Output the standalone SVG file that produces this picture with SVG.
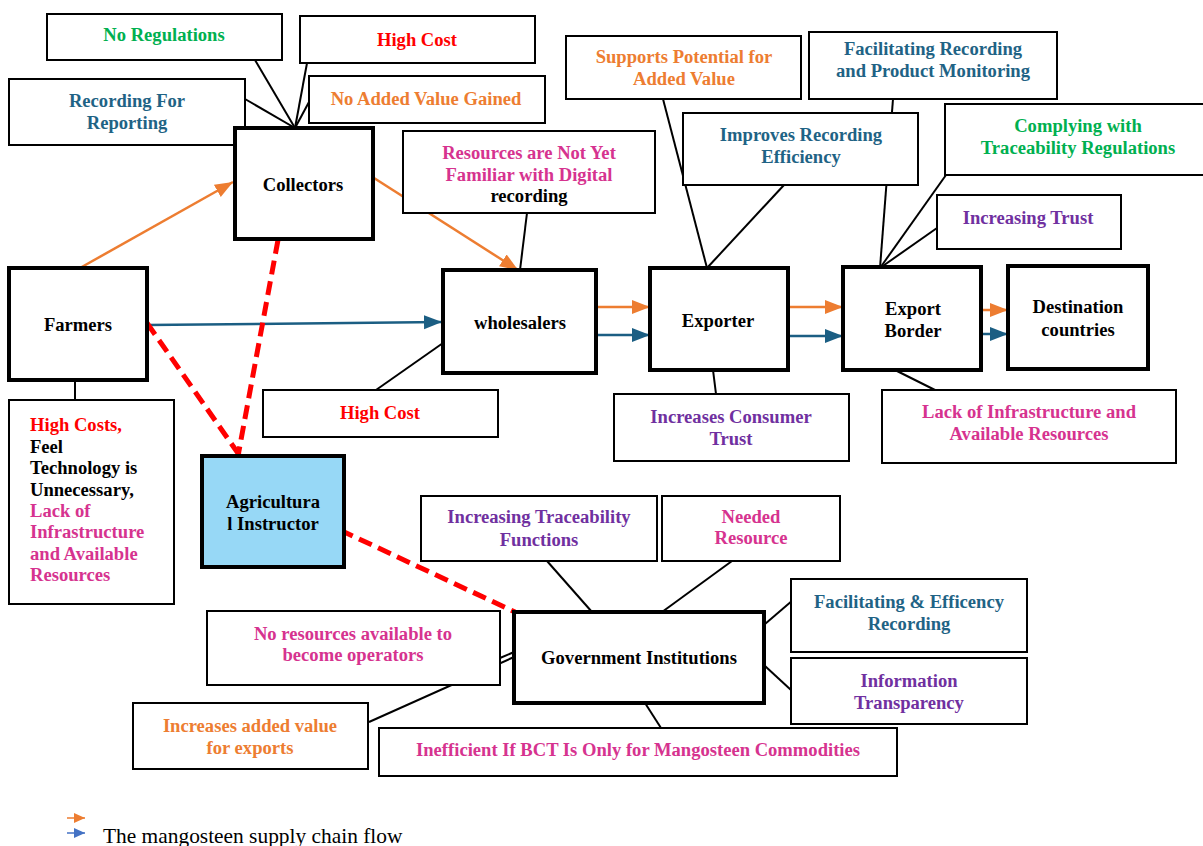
<svg xmlns="http://www.w3.org/2000/svg" width="1203" height="846" viewBox="0 0 1203 846">
<style>
text{font-family:"Liberation Serif","Times New Roman",serif;font-weight:bold;font-size:18.6px;text-anchor:middle}
.box{fill:#fff;stroke:#000;stroke-width:2}
.node{fill:#fff;stroke:#000;stroke-width:4}
.ln{stroke:#000;stroke-width:2;fill:none}
.or{stroke:#ED7D31;stroke-width:2.5;fill:none}
.bl{stroke:#1B5E83;stroke-width:2.5;fill:none}
.dash{stroke:#FF0000;stroke-width:5;fill:none;stroke-dasharray:14 7}
.g{fill:#00B050}.r{fill:#FF0000}.t{fill:#1F6385}.o{fill:#ED7D31}.m{fill:#D6338F}.p{fill:#7030A0}.k{fill:#000}
</style>
<defs>
<marker id="ao" markerUnits="userSpaceOnUse" markerWidth="20" markerHeight="16" refX="18" refY="8" orient="auto"><path d="M0,1 L18,8 L0,15 z" fill="#ED7D31"/></marker>
<marker id="ab" markerUnits="userSpaceOnUse" markerWidth="20" markerHeight="16" refX="18" refY="8" orient="auto"><path d="M0,1 L18,8 L0,15 z" fill="#1B5E83"/></marker>
<marker id="lo" markerUnits="userSpaceOnUse" markerWidth="12" markerHeight="10" refX="11" refY="5" orient="auto"><path d="M0,0 L11,5 L0,10 z" fill="#ED7D31"/></marker>
<marker id="lb" markerUnits="userSpaceOnUse" markerWidth="12" markerHeight="10" refX="11" refY="5" orient="auto"><path d="M0,0 L11,5 L0,10 z" fill="#4472C4"/></marker>
</defs>

<g id="connectors">
<line class="ln" x1="295" y1="128" x2="255" y2="60"/>
<line class="ln" x1="295" y1="128" x2="307" y2="63"/>
<line class="ln" x1="295" y1="128" x2="245" y2="99"/>
<line class="ln" x1="295" y1="128" x2="309" y2="102"/>
<line class="ln" x1="527" y1="213" x2="520" y2="270"/>
<line class="ln" x1="75" y1="380" x2="75" y2="400"/>
<line class="ln" x1="443" y1="343" x2="376" y2="390"/>
<line class="ln" x1="707" y1="268" x2="663" y2="99"/>
<line class="ln" x1="707" y1="268" x2="784" y2="185"/>
<line class="ln" x1="713" y1="370" x2="716" y2="394"/>
<line class="ln" x1="880" y1="268" x2="893" y2="99"/>
<line class="ln" x1="880" y1="268" x2="946" y2="175"/>
<line class="ln" x1="880" y1="268" x2="937" y2="228"/>
<line class="ln" x1="895" y1="370" x2="935" y2="390"/>
<line class="ln" x1="592" y1="612" x2="547" y2="561"/>
<line class="ln" x1="662" y1="612" x2="732" y2="561"/>
<line class="ln" x1="765" y1="624" x2="793" y2="600"/>
<line class="ln" x1="765" y1="666" x2="791" y2="690"/>
<line class="ln" x1="514" y1="652" x2="500" y2="658"/>
<line class="ln" x1="514" y1="657" x2="369" y2="722"/>
<line class="ln" x1="645" y1="703" x2="661" y2="728"/>

<line class="or" x1="80" y1="268" x2="233" y2="182" marker-end="url(#ao)"/>
<line class="or" x1="374" y1="178" x2="518" y2="270" marker-end="url(#ao)"/>
<line class="bl" x1="147" y1="325" x2="442" y2="322" marker-end="url(#ab)"/>
<line class="or" x1="596" y1="307" x2="650" y2="307" marker-end="url(#ao)"/>
<line class="bl" x1="596" y1="335" x2="650" y2="335" marker-end="url(#ab)"/>
<line class="or" x1="789" y1="307" x2="843" y2="307" marker-end="url(#ao)"/>
<line class="bl" x1="789" y1="336" x2="843" y2="336" marker-end="url(#ab)"/>
<line class="or" x1="982" y1="310" x2="1008" y2="310" marker-end="url(#ao)"/>
<line class="bl" x1="982" y1="334" x2="1008" y2="334" marker-end="url(#ab)"/>

<line class="dash" x1="147" y1="323" x2="240" y2="456"/>
<line class="dash" x1="278" y1="240" x2="238" y2="456"/>
<line class="dash" x1="340" y1="530" x2="515" y2="612"/>
</g>

<g id="no-regulations"><rect class="box" x="47" y="14" width="235" height="46"/><text class="g" x="164" y="41">No Regulations</text></g>
<g id="high-cost-collectors"><rect class="box" x="300" y="16" width="235" height="47"/><text class="r" x="417" y="46">High Cost</text></g>
<g id="recording-for-reporting"><rect class="box" x="9" y="79" width="236" height="66"/><text class="t" x="127" y="107">Recording For</text><text class="t" x="127" y="129">Reporting</text></g>
<g id="no-added-value"><rect class="box" x="309" y="76" width="236" height="47"/><text class="o" x="426" y="105">No Added Value Gained</text></g>
<g id="collectors"><rect class="node" x="235" y="128" width="138" height="111"/><text class="k" x="303" y="191">Collectors</text></g>
<g id="resources-not-familiar"><rect class="box" x="403" y="131" width="252" height="82"/><text class="m" x="529" y="159">Resources are Not Yet</text><text class="m" x="529" y="181">Familiar with Digital</text><text class="k" x="529" y="202">recording</text></g>
<g id="farmers"><rect class="node" x="9" y="268" width="138" height="112"/><text class="k" x="78" y="331">Farmers</text></g>
<g id="farmers-issues"><rect class="box" x="9" y="400" width="165" height="204"/>
<text x="30" y="431" class="r" style="text-anchor:start">High Costs,</text>
<text x="30" y="453" class="k" style="text-anchor:start">Feel</text>
<text x="30" y="474" class="k" style="text-anchor:start">Technology is</text>
<text x="30" y="496" class="k" style="text-anchor:start">Unnecessary,</text>
<text x="30" y="517" class="m" style="text-anchor:start">Lack of</text>
<text x="30" y="538" class="m" style="text-anchor:start">Infrastructure</text>
<text x="30" y="560" class="m" style="text-anchor:start">and Available</text>
<text x="30" y="581" class="m" style="text-anchor:start">Resources</text></g>
<g id="agricultural-instructor"><rect x="202" y="456" width="142" height="111" fill="#97D8F6" stroke="#000" stroke-width="4"/><text class="k" x="273" y="508">Agricultura</text><text class="k" x="273" y="530">l Instructor</text></g>
<g id="wholesalers"><rect class="node" x="443" y="270" width="153" height="103"/><text class="k" x="520" y="329">wholesalers</text></g>
<g id="high-cost-wholesalers"><rect class="box" x="263" y="390" width="235" height="47"/><text class="r" x="380" y="419">High Cost</text></g>
<g id="exporter"><rect class="node" x="650" y="268" width="138" height="102"/><text class="k" x="718" y="327">Exporter</text></g>
<g id="supports-potential"><rect class="box" x="566" y="36" width="235" height="63"/><text class="o" x="684" y="63">Supports Potential for</text><text class="o" x="684" y="85">Added Value</text></g>
<g id="improves-recording"><rect class="box" x="683" y="113" width="235" height="72"/><text class="t" x="801" y="141">Improves Recording</text><text class="t" x="801" y="163">Efficiency</text></g>
<g id="increases-consumer-trust"><rect class="box" x="614" y="394" width="235" height="67"/><text class="p" x="731" y="423">Increases Consumer</text><text class="p" x="731" y="445">Trust</text></g>
<g id="export-border"><rect class="node" x="843" y="267" width="138" height="103"/><text class="k" x="913" y="315">Export</text><text class="k" x="913" y="337">Border</text></g>
<g id="facilitating-recording"><rect class="box" x="809" y="32" width="248" height="67"/><text class="t" x="933" y="55">Facilitating Recording</text><text class="t" x="933" y="77">and Product Monitoring</text></g>
<g id="complying"><rect class="box" x="945" y="104" width="262" height="71"/><text class="g" x="1078" y="132">Complying with</text><text class="g" x="1078" y="154">Traceability Regulations</text></g>
<g id="increasing-trust"><rect class="box" x="937" y="195" width="184" height="54"/><text class="p" x="1028" y="224">Increasing Trust</text></g>
<g id="lack-infrastructure"><rect class="box" x="882" y="390" width="294" height="73"/><text class="m" x="1029" y="418">Lack of Infrastructure and</text><text class="m" x="1029" y="440">Available Resources</text></g>
<g id="destination-countries"><rect class="node" x="1008" y="266" width="140" height="103"/><text class="k" x="1078" y="313">Destination</text><text class="k" x="1078" y="336">countries</text></g>
<g id="government-institutions"><rect class="node" x="514" y="612" width="250" height="91"/><text class="k" x="639" y="664">Government Institutions</text></g>
<g id="increasing-traceability"><rect class="box" x="421" y="496" width="236" height="65"/><text class="p" x="539" y="523">Increasing Traceability</text><text class="p" x="539" y="546">Functions</text></g>
<g id="needed-resource"><rect class="box" x="662" y="496" width="178" height="65"/><text class="m" x="751" y="523">Needed</text><text class="m" x="751" y="544">Resource</text></g>
<g id="facilitating-efficency"><rect class="box" x="791" y="579" width="236" height="73"/><text class="t" x="909" y="608">Facilitating &amp; Efficency</text><text class="t" x="909" y="630">Recording</text></g>
<g id="information-transparency"><rect class="box" x="791" y="658" width="236" height="66"/><text class="p" x="909" y="687">Information</text><text class="p" x="909" y="709">Transparency</text></g>
<g id="no-resources-operators"><rect class="box" x="207" y="611" width="293" height="74"/><text class="m" x="353" y="640">No resources available to</text><text class="m" x="353" y="661">become operators</text></g>
<g id="increases-added-value"><rect class="box" x="133" y="703" width="235" height="66"/><text class="o" x="250" y="732">Increases added value</text><text class="o" x="250" y="754">for exports</text></g>
<g id="inefficient-bct"><rect class="box" x="379" y="728" width="518" height="48"/><text class="m" x="638" y="756">Inefficient If BCT Is Only for Mangosteen Commodities</text></g>

<g id="legend">
<line x1="67" y1="818" x2="85" y2="818" stroke="#ED7D31" stroke-width="1.5" marker-end="url(#lo)"/>
<line x1="67" y1="833" x2="85" y2="833" stroke="#4472C4" stroke-width="1.5" marker-end="url(#lb)"/>
<text x="103" y="843" style="font-weight:normal;font-size:21.4px;text-anchor:start" fill="#000">The mangosteen supply chain flow</text>
</g>
</svg>
